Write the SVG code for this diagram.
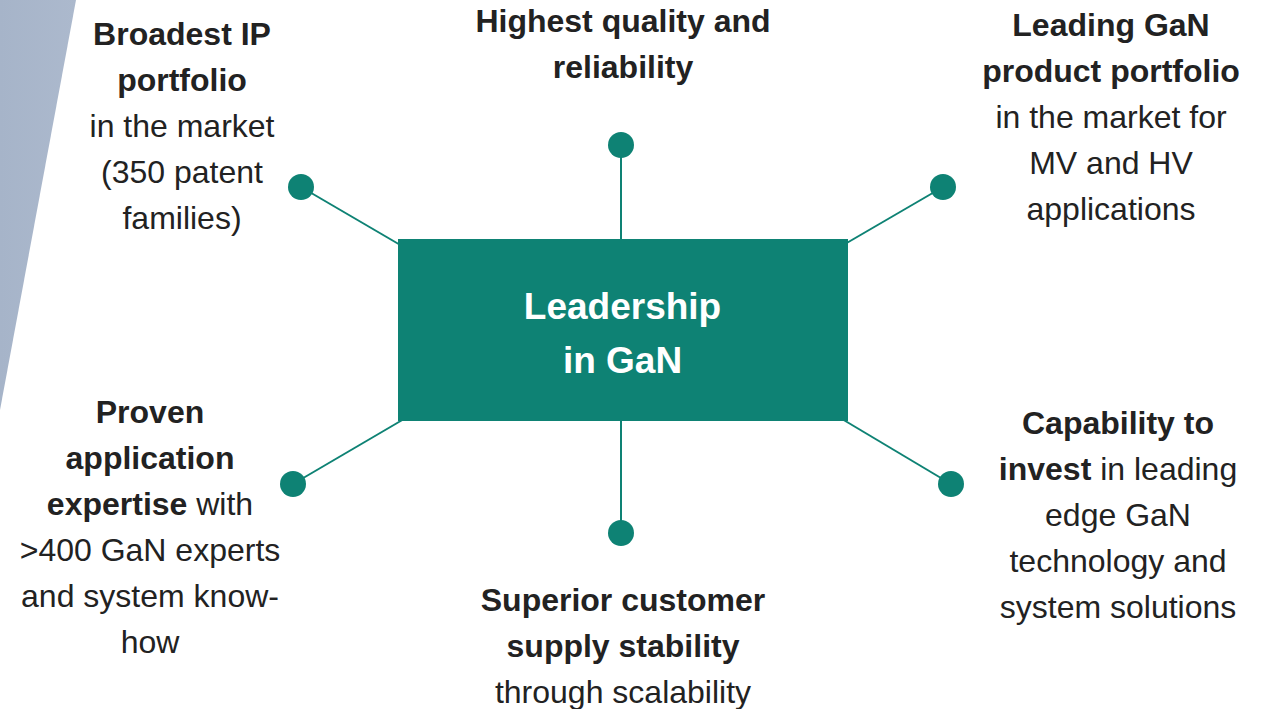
<svg xmlns="http://www.w3.org/2000/svg" width="1273" height="709" viewBox="0 0 1273 709">
  <defs>
    <linearGradient id="band" x1="0" y1="0" x2="1" y2="0">
      <stop offset="0" stop-color="#a6b4c9"/>
      <stop offset="1" stop-color="#acb9cd"/>
    </linearGradient>
  </defs>
  <style>
    .lbl { font-family: "Liberation Sans", Arial, Helvetica, sans-serif; font-size: 32px; fill: #222222; text-anchor: middle; }
    .b { font-weight: bold; }
    .hub { font-family: "Liberation Sans", Arial, Helvetica, sans-serif; font-size: 37px; font-weight: bold; fill: #ffffff; text-anchor: middle; }
    .spoke { stroke: #0e8274; stroke-width: 2; fill: none; }
    .dot { fill: #0e8274; }
  </style>

  <!-- slanted band on the left edge -->
  <polygon points="0,0 76,0 0,410" fill="url(#band)"/>

  <!-- spokes from the hub to the dots -->
  <g id="connectors">
    <line class="spoke" x1="301" y1="187" x2="402" y2="246"/>
    <line class="spoke" x1="621" y1="145" x2="621" y2="242"/>
    <line class="spoke" x1="943" y1="187" x2="845" y2="244"/>
    <line class="spoke" x1="293" y1="484" x2="404" y2="419"/>
    <line class="spoke" x1="621" y1="533" x2="621" y2="418"/>
    <line class="spoke" x1="951" y1="484" x2="842" y2="419"/>
  </g>

  <!-- hub -->
  <g id="hub">
    <rect x="398" y="239" width="450" height="182" fill="#0e8274"/>
    <text class="hub" x="622.5" y="319">Leadership</text>
    <text class="hub" x="622.5" y="373">in GaN</text>
  </g>

  <g id="ip-portfolio">
    <circle class="dot" cx="301" cy="187" r="13"/>
    <text class="lbl b" x="182" y="45">Broadest IP</text>
    <text class="lbl b" x="182" y="91">portfolio</text>
    <text class="lbl" x="182" y="137">in the market</text>
    <text class="lbl" x="182" y="183">(350 patent</text>
    <text class="lbl" x="182" y="229">families)</text>
  </g>

  <g id="quality">
    <circle class="dot" cx="621" cy="145" r="13"/>
    <text class="lbl b" x="623" y="32">Highest quality and</text>
    <text class="lbl b" x="623" y="78">reliability</text>
  </g>

  <g id="product-portfolio">
    <circle class="dot" cx="943" cy="187" r="13"/>
    <text class="lbl b" x="1111" y="36">Leading GaN</text>
    <text class="lbl b" x="1111" y="82">product portfolio</text>
    <text class="lbl" x="1111" y="128">in the market for</text>
    <text class="lbl" x="1111" y="174">MV and HV</text>
    <text class="lbl" x="1111" y="220">applications</text>
  </g>

  <g id="expertise">
    <circle class="dot" cx="293" cy="484" r="13"/>
    <text class="lbl b" x="150" y="423">Proven</text>
    <text class="lbl b" x="150" y="469">application</text>
    <text class="lbl" x="150" y="515"><tspan class="b">expertise</tspan> with</text>
    <text class="lbl" x="150" y="561">&gt;400 GaN experts</text>
    <text class="lbl" x="150" y="607">and system know-</text>
    <text class="lbl" x="150" y="653">how</text>
  </g>

  <g id="supply">
    <circle class="dot" cx="621" cy="533" r="13"/>
    <text class="lbl b" x="623" y="611">Superior customer</text>
    <text class="lbl b" x="623" y="657">supply stability</text>
    <text class="lbl" x="623" y="703">through scalability</text>
  </g>

  <g id="invest">
    <circle class="dot" cx="951" cy="484" r="13"/>
    <text class="lbl b" x="1118" y="434">Capability to</text>
    <text class="lbl" x="1118" y="480"><tspan class="b">invest</tspan> in leading</text>
    <text class="lbl" x="1118" y="526">edge GaN</text>
    <text class="lbl" x="1118" y="572">technology and</text>
    <text class="lbl" x="1118" y="618">system solutions</text>
  </g>
</svg>
